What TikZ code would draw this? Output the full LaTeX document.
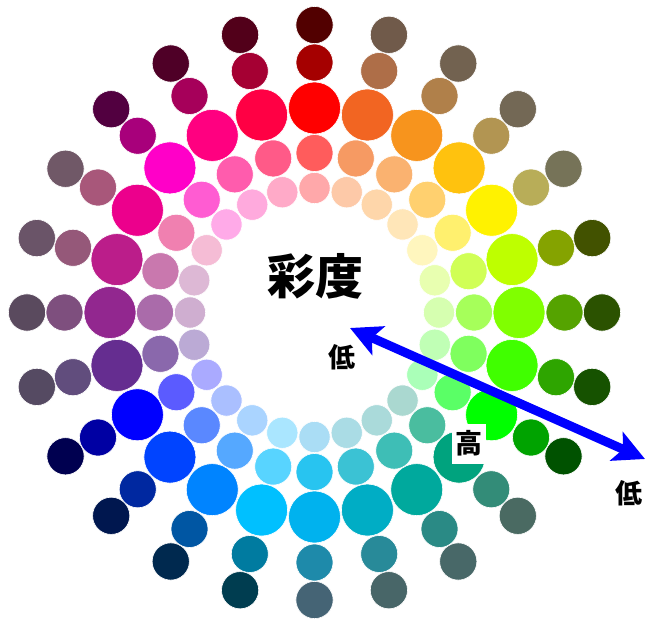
\documentclass[tikz,border=0pt]{standalone}
\usepackage{fontspec}
\newfontfamily\cjk{Noto Sans CJK JP}
\usetikzlibrary{arrows.meta}
\newcommand\colorring[3]{%
  \foreach \col [count=\i from 0] in {#3} {
    \edef\tmpdef{\noexpand\definecolor{tmpc}{HTML}{\col}}\tmpdef
    \fill[tmpc, draw=white, line width=0.6pt] ({314.5+#1*sin(15*\i)},{312.5-#1*cos(15*\i)}) circle[radius=#2pt];
  }}
\tikzset{
  lbl/.style={font=\cjk\bfseries\fontsize{27pt}{27pt}\selectfont, inner sep=0pt},
  title/.style={font=\cjk\bfseries\fontsize{48pt}{48pt}\selectfont, inner sep=0pt},
  satarrow/.style={blue, line width=9pt, {Stealth[length=31pt,width=31pt,inset=7pt]}-{Stealth[length=31pt,width=31pt,inset=7pt]}}
}
\begin{document}
\begin{tikzpicture}[x=1pt,y=-1pt]
\useasboundingbox[fill=white] (0,0) rectangle (647,619);
% outer ring
\colorring{287.5}{18.6}{520000,705A4A,726250,736855,767358,425200,2B5200,165200,005200,4A6A62,486868,486668,456475,003D50,00294F,00174F,000050,554A62,5A4A5E,6A5468,705867,520040,4F0027,52001A}
% second ring
\colorring{250}{18.5}{A50000,AE6E48,B0804A,B29552,B8AD58,85A300,55A300,2EA500,00A300,338C78,2A8A85,288A99,1E8AAA,007BA0,0056A3,0028A0,0000A3,614D7D,7E4F7E,955879,A8577A,A8007B,A6005A,A50033}
% big ring
\colorring{204.5}{26}{FF0000,F26522,F7941D,FFC20E,FFF200,BEFF00,80FF00,40FF00,00FF00,00A37E,00A99D,00ADC5,00B2EE,00C0FF,0084FF,0044FF,0000FF,652D90,92278F,BB1D8A,EC008C,FF00C8,FF0080,FF0044}
% middle ring
\colorring{159.5}{18.5}{FF5C5C,F69A63,FAB270,FFD06F,FFF06E,D0FF55,A6FF5A,7FFF5E,5AFF66,4ABD9F,3EBEB6,3BC2D4,28C4F0,58D4FF,55A8FF,5A88FF,5B5BFF,8A68AC,AA6BAA,C978AE,F080B0,FF5CD2,FF5CAD,FF5A88}
% inner ring
\colorring{124.5}{15.6}{FFA8AA,FDC9A8,FED6AA,FFE6B8,FFF6BE,E8FFB0,D6FFB0,C0FFB5,AAFFB8,AAD8D0,AADADA,AADCE5,AADDF5,AAE6FF,AAD4FF,AABFFF,AAAAFF,BBAAD5,CFAED0,DDB8D5,F5BCD5,FFAAE8,FFAADD,FFAAC8}
% labels
\node[title] (saido) at (315,276) {彩度};
\node[lbl] (lowin) at (341.5,357.5) {低};
\node[lbl, fill=white, minimum width=34pt, minimum height=40pt] (high) at (469,443.5) {高};
\node[lbl] (lowout) at (629,493.5) {低};
% arrow
\coordinate (tipA) at (350,328);
\coordinate (tipB) at (645,459);
\draw[satarrow] (tipA) -- (tipB);
\end{tikzpicture}
\end{document}
